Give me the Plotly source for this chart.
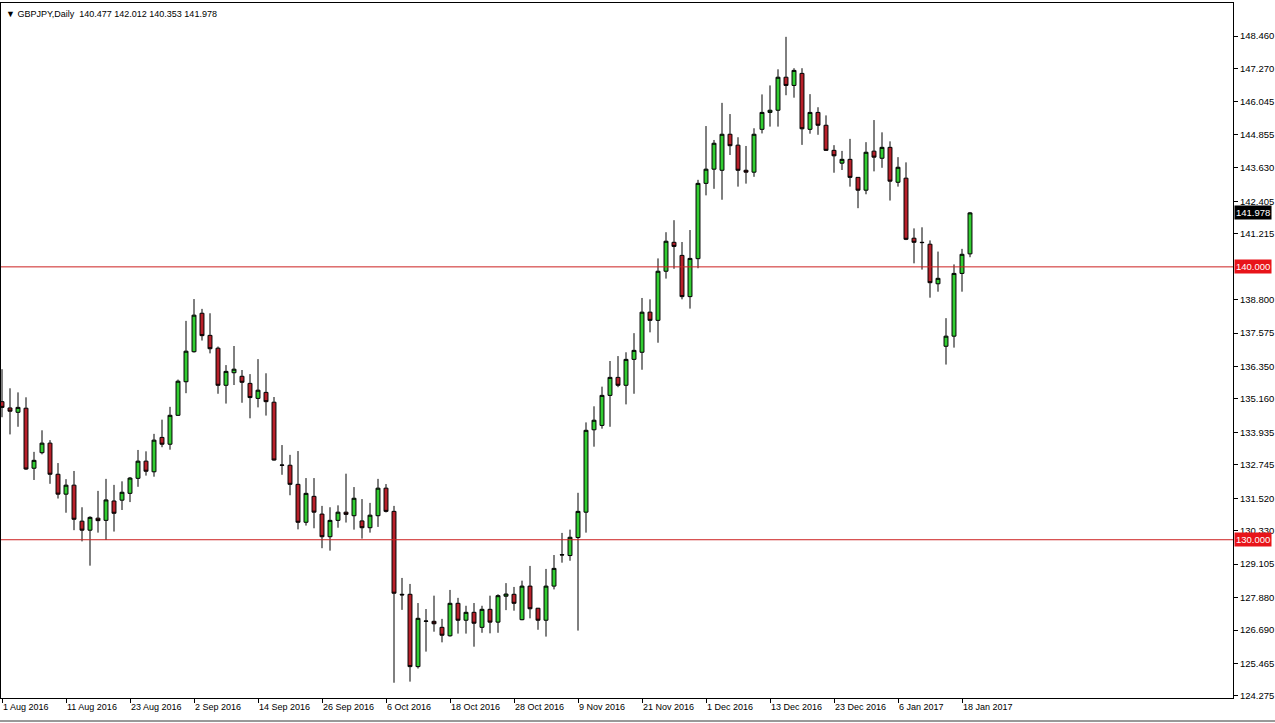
import pandas as pd
import plotly.graph_objects as go

# ---------------- data ----------------
HOLIDAYS = ["2016-12-26", "2017-01-02"]
dates = [d.strftime("%Y-%m-%d") for d in pd.bdate_range("2016-08-01", "2017-01-19")
         if d.strftime("%Y-%m-%d") not in HOLIDAYS]

open_ = [135.06, 134.83, 134.67, 134.82, 132.62, 133.19, 133.54, 132.40, 131.67, 132.00,
         130.68, 130.35, 130.79, 130.71, 131.42, 131.45, 131.70, 132.25, 132.88, 132.49,
         133.75, 133.50, 134.56, 135.79, 136.89, 138.30, 137.49, 137.02, 135.66, 136.12,
         135.99, 135.73, 135.18, 135.40, 135.04, 132.74, 132.73, 132.03, 130.64, 131.59,
         130.94, 130.11, 130.71, 131.01, 130.88, 130.69, 130.44, 130.88, 131.89, 131.04,
         128.00, 128.00, 125.35, 127.01, 127.01, 126.79, 126.48, 127.67, 127.05, 127.34,
         126.79, 127.45, 126.98, 127.93, 128.00, 127.07, 128.30, 127.49, 127.05, 128.30,
         129.44, 129.42, 130.08, 131.01, 134.03, 134.19, 135.29, 135.95, 135.66, 136.61,
         136.87, 138.34, 138.04, 139.84, 140.90, 140.42, 138.91, 140.30, 143.06, 143.58,
         143.54, 144.86, 144.46, 143.54, 143.47, 145.04, 145.66, 145.74, 146.95, 146.65,
         147.09, 145.04, 145.66, 145.19, 144.27, 143.80, 143.94, 143.28, 142.81, 144.24,
         143.98, 144.38, 143.10, 143.25, 141.05, 140.90, 140.83, 139.38, 137.09, 137.46,
         139.76, 140.477]
high = [136.25, 135.55, 135.40, 135.22, 133.22, 134.01, 133.65, 132.81, 132.22, 132.52,
        131.19, 130.86, 131.79, 132.23, 132.01, 132.14, 132.30, 133.29, 133.24, 133.88,
        134.40, 134.87, 135.87, 138.02, 138.82, 138.46, 138.30, 137.08, 136.40, 137.10,
        136.22, 136.07, 136.62, 136.10, 135.23, 133.47, 133.11, 133.25, 132.26, 132.26,
        131.24, 131.19, 131.26, 132.42, 131.93, 131.49, 131.35, 132.23, 132.04, 131.24,
        128.60, 128.38, 127.68, 127.46, 127.95, 127.10, 128.16, 127.87, 127.58, 127.68,
        127.58, 127.95, 128.00, 128.41, 128.27, 128.50, 129.04, 127.50, 128.93, 129.44,
        130.25, 130.37, 131.72, 134.30, 134.89, 135.61, 136.55, 136.73, 136.87, 137.57,
        138.86, 138.81, 140.31, 141.27, 141.71, 140.91, 141.35, 143.19, 145.16, 144.65,
        146.01, 145.60, 144.75, 144.43, 145.08, 146.32, 146.65, 147.24, 148.43, 147.28,
        147.28, 146.33, 145.85, 145.55, 144.46, 144.25, 144.69, 143.29, 144.57, 145.38,
        144.93, 144.60, 144.02, 143.83, 141.41, 141.45, 140.97, 140.56, 138.12, 140.09,
        140.66, 142.012]
low = [134.49, 133.86, 134.14, 132.56, 132.19, 133.13, 132.05, 131.51, 130.99, 130.35,
       129.94, 129.05, 130.26, 129.99, 130.30, 131.09, 131.38, 131.94, 132.35, 132.31,
       133.39, 133.30, 134.54, 135.37, 136.86, 137.30, 136.83, 135.35, 134.99, 135.67,
       135.02, 134.45, 134.85, 134.55, 132.90, 132.38, 131.63, 130.38, 130.52, 130.42,
       129.69, 129.60, 130.44, 130.63, 130.37, 130.04, 130.26, 130.47, 131.00, 124.76,
       127.43, 124.80, 125.28, 125.90, 126.63, 126.24, 126.45, 126.56, 126.56, 126.08,
       126.59, 126.57, 126.59, 127.42, 127.40, 127.05, 127.12, 126.70, 126.45, 128.18,
       129.16, 129.23, 126.67, 130.26, 133.41, 134.07, 134.14, 135.59, 134.96, 135.35,
       136.23, 137.60, 137.22, 139.57, 139.93, 138.81, 138.47, 139.95, 142.62, 142.86,
       142.46, 144.10, 142.94, 143.05, 143.30, 144.89, 145.14, 145.14, 146.29, 146.20,
       144.47, 144.88, 144.84, 144.25, 143.45, 143.55, 142.94, 142.15, 142.66, 143.50,
       143.63, 142.43, 142.94, 140.98, 140.13, 139.90, 138.87, 139.09, 136.42, 137.04,
       139.09, 140.353]
close = [134.85, 134.71, 134.85, 132.59, 132.91, 133.54, 132.40, 131.67, 132.00, 130.75,
         130.35, 130.82, 130.70, 131.46, 130.97, 131.74, 132.26, 132.88, 132.51, 133.65,
         133.50, 134.56, 135.81, 136.91, 138.23, 137.48, 137.00, 135.66, 136.17, 136.25,
         135.77, 135.21, 135.48, 135.06, 132.92, 132.73, 132.03, 130.64, 131.70, 131.01,
         130.11, 130.71, 131.01, 130.93, 131.52, 130.44, 130.90, 131.89, 131.04, 128.04,
         127.98, 125.35, 127.12, 127.02, 126.92, 126.50, 127.67, 127.05, 127.34, 126.94,
         127.45, 126.98, 127.95, 128.01, 127.67, 128.30, 127.47, 127.05, 128.30, 128.95,
         129.45, 130.09, 131.04, 134.01, 134.38, 135.29, 135.95, 135.66, 136.61, 136.94,
         138.34, 138.04, 139.84, 140.94, 140.75, 138.91, 140.31, 143.06, 143.58, 144.53,
         144.86, 144.44, 143.54, 143.47, 144.86, 145.66, 145.74, 146.95, 146.65, 147.20,
         145.06, 145.66, 145.19, 144.27, 144.07, 143.94, 143.28, 142.81, 144.20, 144.02,
         144.38, 143.14, 143.65, 141.01, 140.90, 140.89, 139.42, 139.58, 137.46, 139.76,
         140.46, 141.978]

x_tick_labels = ["1 Aug 2016", "11 Aug 2016", "23 Aug 2016", "2 Sep 2016", "14 Sep 2016",
                 "26 Sep 2016", "6 Oct 2016", "18 Oct 2016", "28 Oct 2016", "9 Nov 2016",
                 "21 Nov 2016", "1 Dec 2016", "13 Dec 2016", "23 Dec 2016", "6 Jan 2017",
                 "18 Jan 2017"]
y_tick_labels = ["148.460", "147.270", "146.045", "144.855", "143.630", "142.405", "141.215",
                 "138.800", "137.575", "136.350", "135.160", "133.935", "132.745", "131.520",
                 "130.330", "129.105", "127.880", "126.690", "125.465", "124.275"]
level_lines = [140.0, 130.0]
symbol = "GBPJPY,Daily"

# ---------------- figure ----------------
FONT = "Liberation Sans, Arial, sans-serif"
fig = go.Figure(go.Candlestick(
    x=dates, open=open_, high=high, low=low, close=close,
    increasing=dict(line=dict(color="black", width=1), fillcolor="#32cd32"),
    decreasing=dict(line=dict(color="black", width=1), fillcolor="#b8202a"),
    whiskerwidth=0, showlegend=False,
))

tick_dates = [dates[i] for i in range(0, len(dates), 8)][:len(x_tick_labels)]

fig.update_layout(
    width=1275, height=723,
    margin=dict(l=1, r=42, t=3, b=25, autoexpand=False),
    paper_bgcolor="white", plot_bgcolor="white",
    font=dict(family=FONT, size=9, color="black"),
    xaxis=dict(
        type="category", categoryorder="array", categoryarray=dates,
        range=[-0.125, 153.875], rangeslider=dict(visible=False),
        tickmode="array", tickvals=tick_dates, ticktext=x_tick_labels,
        ticks="outside", ticklen=4, tickcolor="black", ticklabelposition="outside right",
        tickfont=dict(family=FONT, size=9, color="black"),
        showline=True, linecolor="black", linewidth=1, mirror=True,
        showgrid=False, zeroline=False, fixedrange=True, automargin=False,
    ),
    yaxis=dict(
        side="right", range=[124.20, 149.67],
        tickmode="array", tickvals=[float(t) for t in y_tick_labels], ticktext=y_tick_labels,
        ticks="outside", ticklen=4, tickcolor="black",
        tickfont=dict(family=FONT, size=9.5, color="black"),
        showline=True, linecolor="black", linewidth=1, mirror=True,
        showgrid=False, zeroline=False, fixedrange=True, automargin=False,
    ),
    hovermode=False,
)

for lv in level_lines:
    fig.add_shape(type="line", xref="paper", yref="y", x0=0, x1=1, y0=lv, y1=lv,
                  line=dict(color="#cc2020", width=1))
    fig.add_annotation(xref="paper", yref="y", x=1, y=lv, xanchor="left", yanchor="middle",
                       xshift=1, text=f"{lv:.3f}", showarrow=False, bgcolor="#e8141a",
                       font=dict(family=FONT, size=9.5, color="white"), borderpad=1)

fig.add_annotation(xref="paper", yref="y", x=1, y=close[-1], xanchor="left", yanchor="middle",
                   xshift=1, text=f"{close[-1]:.3f}", showarrow=False, bgcolor="black",
                   font=dict(family=FONT, size=9.5, color="white"), borderpad=1)

title = "\u25BC " + symbol + "  " + " ".join(f"{v:.3f}" for v in (open_[-1], high[-1], low[-1], close[-1]))
fig.add_annotation(xref="paper", yref="paper", x=0, y=1, xanchor="left", yanchor="top",
                   xshift=3, yshift=-4, text=title, showarrow=False,
                   font=dict(family=FONT, size=9, color="black"))

# bottom frame line of the window
fig.add_shape(type="line", xref="paper", yref="paper", x0=-0.01, x1=1.05, y0=-0.0331, y1=-0.0331,
              line=dict(color="#333333", width=1))

fig.write_html("out.html", config={"displayModeBar": False},
               post_script="document.body.style.margin='0';document.body.style.overflow='hidden';")
